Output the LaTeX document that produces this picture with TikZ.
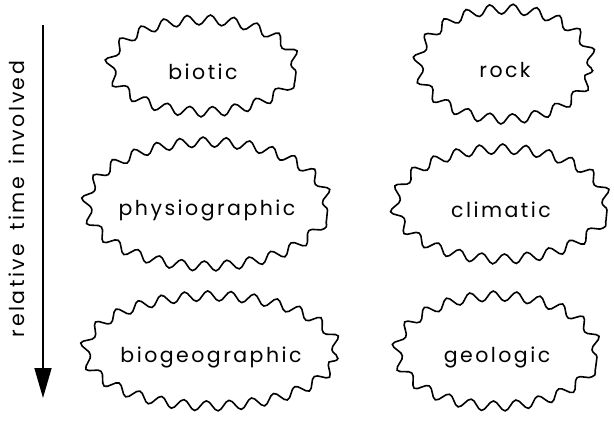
\documentclass[tikz,border=0pt]{standalone}
\usepackage{fontspec}
\setmainfont[LetterSpace=12]{Poppins}
\usetikzlibrary{shapes.geometric,decorations.pathmorphing,arrows.meta}

\begin{document}
\begin{tikzpicture}[x=1pt,y=-1pt,
    blob/.style={ellipse, draw, line width=1.6pt, inner sep=0pt,
        decorate, decoration={snake, segment length=23pt, amplitude=5pt}},
    word/.style={font=\fontsize{20.5}{22}\selectfont}]
    \useasboundingbox (0,0) rectangle (614,426);

    % Time axis
    \coordinate (tstart) at (43,25);
    \coordinate (tend) at (43,398);
    \draw[line width=1.6pt, -{Triangle[length=30pt,width=17pt]}] (tstart) -- (tend);
    \node[word, rotate=90] (tlabel) at (17,199)
        {\spaceskip=13pt relative time involved};

    % Left column
    \node[blob, minimum width=186pt, minimum height=92pt] (biotic) at (203,72) {};
    \node[word] (bioticl) at (biotic) {biotic};
    \node[blob, minimum width=241pt, minimum height=124pt] (physio) at (207,210) {};
    \node[word] (physiol) at (physio) {physiographic};
    \node[blob, minimum width=252pt, minimum height=110pt] (biogeo) at (211,357) {};
    \node[word] (biogeol) at (biogeo) {biogeographic};

    % Right column
    \node[blob, minimum width=174pt, minimum height=110pt] (rock) at (505,70) {};
    \node[word] (rockl) at (rock) {rock};
    \node[blob, minimum width=212pt, minimum height=110pt] (climatic) at (501,210) {};
    \node[word] (climaticl) at (climatic) {climatic};
    \node[blob, minimum width=200pt, minimum height=110pt] (geologic) at (497,357) {};
    \node[word] (geologicl) at (geologic) {geologic};
\end{tikzpicture}
\end{document}
